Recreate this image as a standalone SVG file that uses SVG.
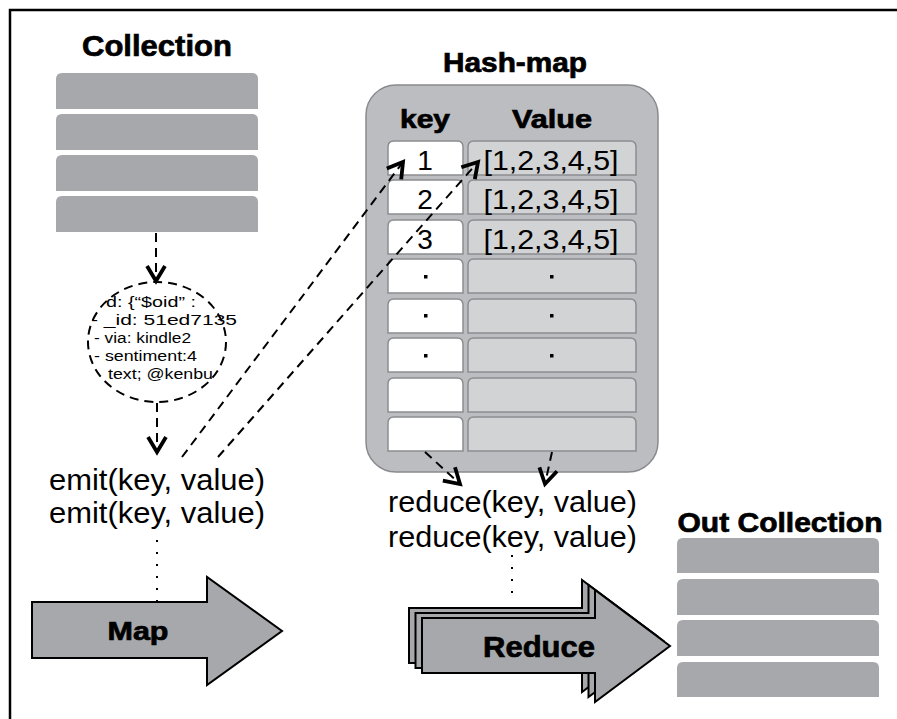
<svg xmlns="http://www.w3.org/2000/svg" width="897" height="719" viewBox="0 0 897 719">
<style>
.bg{fill:#ffffff}
.frame{stroke:#000;stroke-width:2.5;fill:none}
.bar{fill:#a7a8ab}
.title{font-family:"Liberation Sans",Arial,sans-serif;font-weight:bold;fill:#000;stroke:#000;stroke-width:0.7}
.txt{font-family:"Liberation Sans",Arial,sans-serif;fill:#000}
.hm{fill:#bcbdc0;stroke:#8a8b8e;stroke-width:1.5}
.kc{fill:#ffffff;stroke:#8c8d90;stroke-width:1.5}
.vc{fill:#d2d3d5;stroke:#8c8d90;stroke-width:1.5}
.dot{fill:#000}
.dash{fill:none;stroke:#000;stroke-width:2;stroke-dasharray:9 6}
.dotted{fill:none;stroke:#000;stroke-width:2;stroke-dasharray:2 10}
.arrow{fill:#a7a8ab;stroke:#000;stroke-width:2;stroke-linejoin:miter}
</style>
<defs>
<marker id="v" markerUnits="userSpaceOnUse" viewBox="0 0 22 24" refX="18" refY="12" markerWidth="22" markerHeight="24" orient="auto">
<path d="M3,3 L18,12 L3,21" fill="none" stroke="#000" stroke-width="3.8" stroke-dasharray="none"/>
</marker>
</defs>
<rect class="bg" x="0" y="0" width="897" height="719"/>
<path class="frame" d="M10,719 V10 H897"/>

<g id="collection">
<text class="title" x="157" y="56" font-size="30" text-anchor="middle" textLength="150" lengthAdjust="spacingAndGlyphs">Collection</text>
<path class="bar" d="M56,109 V79 Q56,73 62,73 H252 Q258,73 258,79 V109 Z"/>
<path class="bar" d="M56,150 V120 Q56,114 62,114 H252 Q258,114 258,120 V150 Z"/>
<path class="bar" d="M56,191 V161 Q56,155 62,155 H252 Q258,155 258,161 V191 Z"/>
<path class="bar" d="M56,232 V202 Q56,196 62,196 H252 Q258,196 258,202 V232 Z"/>
</g>

<g id="document">
<ellipse class="dash" cx="157" cy="342" rx="69" ry="60"/>
<text class="txt" x="106" y="307" font-size="15.5" textLength="90" lengthAdjust="spacingAndGlyphs">d: {“$oid” :</text>
<text class="txt" x="91" y="325" font-size="15.5" textLength="146" lengthAdjust="spacingAndGlyphs">- _id: 51ed7135</text>
<text class="txt" x="94" y="343" font-size="15.5" textLength="97" lengthAdjust="spacingAndGlyphs">- via: kindle2</text>
<text class="txt" x="94" y="361" font-size="15.5" textLength="103" lengthAdjust="spacingAndGlyphs">- sentiment:4</text>
<text class="txt" x="108" y="379" font-size="15.5" textLength="105" lengthAdjust="spacingAndGlyphs">text; @kenbu</text>
</g>

<g id="emit">
<text class="txt" x="49" y="490" font-size="29" textLength="216" lengthAdjust="spacingAndGlyphs">emit(key, value)</text>
<text class="txt" x="49" y="523" font-size="29" textLength="216" lengthAdjust="spacingAndGlyphs">emit(key, value)</text>
</g>

<g id="map">
<polygon class="arrow" points="32,602 207,602 207,577 282,631 207,685 207,658 32,658"/>
<text class="title" x="138" y="640" font-size="26" text-anchor="middle" textLength="61" lengthAdjust="spacingAndGlyphs">Map</text>
</g>

<g id="hashmap">
<text class="title" x="515" y="72" font-size="27" text-anchor="middle" textLength="144" lengthAdjust="spacingAndGlyphs">Hash-map</text>
<rect class="hm" x="366" y="85" width="292" height="387" rx="30" ry="30"/>
<text class="title" x="425" y="128" font-size="26" text-anchor="middle" textLength="50" lengthAdjust="spacingAndGlyphs">key</text>
<text class="title" x="552" y="128" font-size="26" text-anchor="middle" textLength="80" lengthAdjust="spacingAndGlyphs">Value</text>
<g id="row1">
<path class="kc" d="M388,175 V147 Q388,141 394,141 H457 Q463,141 463,147 V175 Z"/>
<path class="vc" d="M468,175 V147 Q468,141 474,141 H630 Q636,141 636,147 V175 Z"/>
<text class="txt" x="425" y="170" font-size="28" text-anchor="middle">1</text>
<text class="txt" x="551" y="170" font-size="28" text-anchor="middle" textLength="135" lengthAdjust="spacingAndGlyphs">[1,2,3,4,5]</text>
</g>
<g id="row2">
<path class="kc" d="M388,214 V186 Q388,180 394,180 H457 Q463,180 463,186 V214 Z"/>
<path class="vc" d="M468,214 V186 Q468,180 474,180 H630 Q636,180 636,186 V214 Z"/>
<text class="txt" x="425" y="209" font-size="28" text-anchor="middle">2</text>
<text class="txt" x="551" y="209" font-size="28" text-anchor="middle" textLength="135" lengthAdjust="spacingAndGlyphs">[1,2,3,4,5]</text>
</g>
<g id="row3">
<path class="kc" d="M388,254 V226 Q388,220 394,220 H457 Q463,220 463,226 V254 Z"/>
<path class="vc" d="M468,254 V226 Q468,220 474,220 H630 Q636,220 636,226 V254 Z"/>
<text class="txt" x="425" y="249" font-size="28" text-anchor="middle">3</text>
<text class="txt" x="551" y="249" font-size="28" text-anchor="middle" textLength="135" lengthAdjust="spacingAndGlyphs">[1,2,3,4,5]</text>
</g>
<g id="row4">
<path class="kc" d="M388,293 V265 Q388,259 394,259 H457 Q463,259 463,265 V293 Z"/>
<path class="vc" d="M468,293 V265 Q468,259 474,259 H630 Q636,259 636,265 V293 Z"/>
<rect class="dot" x="424" y="275" width="3.5" height="3.5"/>
<rect class="dot" x="550" y="275" width="3.5" height="3.5"/>
</g>
<g id="row5">
<path class="kc" d="M388,333 V305 Q388,299 394,299 H457 Q463,299 463,305 V333 Z"/>
<path class="vc" d="M468,333 V305 Q468,299 474,299 H630 Q636,299 636,305 V333 Z"/>
<rect class="dot" x="424" y="314" width="3.5" height="3.5"/>
<rect class="dot" x="550" y="314" width="3.5" height="3.5"/>
</g>
<g id="row6">
<path class="kc" d="M388,372 V344 Q388,338 394,338 H457 Q463,338 463,344 V372 Z"/>
<path class="vc" d="M468,372 V344 Q468,338 474,338 H630 Q636,338 636,344 V372 Z"/>
<rect class="dot" x="424" y="354" width="3.5" height="3.5"/>
<rect class="dot" x="550" y="354" width="3.5" height="3.5"/>
</g>
<g id="row7">
<path class="kc" d="M388,412 V384 Q388,378 394,378 H457 Q463,378 463,384 V412 Z"/>
<path class="vc" d="M468,412 V384 Q468,378 474,378 H630 Q636,378 636,384 V412 Z"/>
</g>
<g id="row8">
<path class="kc" d="M388,451 V423 Q388,417 394,417 H457 Q463,417 463,423 V451 Z"/>
<path class="vc" d="M468,451 V423 Q468,417 474,417 H630 Q636,417 636,423 V451 Z"/>
</g>
</g>

<g id="reduce-calls">
<text class="txt" x="388" y="512" font-size="29" textLength="249" lengthAdjust="spacingAndGlyphs">reduce(key, value)</text>
<text class="txt" x="388" y="547" font-size="29" textLength="249" lengthAdjust="spacingAndGlyphs">reduce(key, value)</text>
</g>

<g id="reduce">
<polygon class="arrow" transform="translate(-13,-10)" points="422,618 595,618 595,590 670,646 595,702 595,673 422,673"/>
<polygon class="arrow" transform="translate(-6.5,-5)" points="422,618 595,618 595,590 670,646 595,702 595,673 422,673"/>
<polygon class="arrow" points="422,618 595,618 595,590 670,646 595,702 595,673 422,673"/>
<text class="title" x="539" y="657" font-size="30" text-anchor="middle" textLength="112" lengthAdjust="spacingAndGlyphs">Reduce</text>
</g>

<g id="out-collection">
<text class="title" x="780" y="532" font-size="27" text-anchor="middle" textLength="205" lengthAdjust="spacingAndGlyphs">Out Collection</text>
<path class="bar" d="M677,573 V544 Q677,538 683,538 H873 Q879,538 879,544 V573 Z"/>
<path class="bar" d="M677,615 V585 Q677,579 683,579 H873 Q879,579 879,585 V615 Z"/>
<path class="bar" d="M677,656 V626 Q677,620 683,620 H873 Q879,620 879,626 V656 Z"/>
<path class="bar" d="M677,697 V668 Q677,662 683,662 H873 Q879,662 879,668 V697 Z"/>
</g>

<g id="connectors">
<line class="dash" x1="156" y1="233" x2="156" y2="281" marker-end="url(#v)"/>
<line class="dash" x1="157" y1="403" x2="157" y2="452" marker-end="url(#v)"/>
<line class="dash" x1="182" y1="457" x2="403" y2="162" marker-end="url(#v)"/>
<line class="dash" x1="218" y1="457" x2="478" y2="162" marker-end="url(#v)"/>
<line class="dash" x1="425" y1="452" x2="460" y2="484" marker-end="url(#v)"/>
<line class="dash" x1="552" y1="452" x2="545" y2="484" marker-end="url(#v)"/>
<line class="dotted" x1="157" y1="540" x2="157" y2="602"/>
<line class="dotted" x1="512" y1="555" x2="512" y2="602"/>
</g>
</svg>
